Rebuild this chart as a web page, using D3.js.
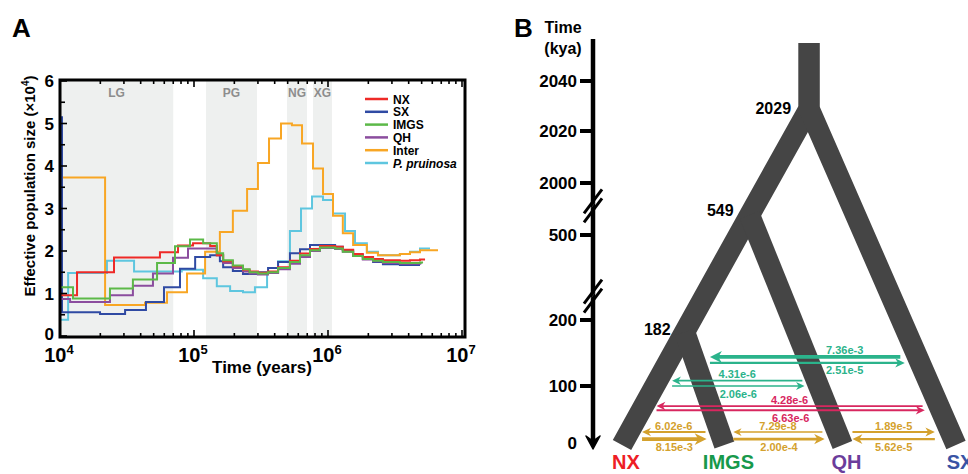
<!DOCTYPE html>
<html>
<head>
<meta charset="utf-8">
<script src="https://cdn.jsdelivr.net/npm/d3@7"></script>
<style>
  body { margin: 0; background: #fff; }
  svg { display: block; }
  text { font-family: "Liberation Sans", Arial, sans-serif; font-weight: bold; }
</style>
</head>
<body>
<div id="chart"></div>
<script>
// ---------- Panel A data: PSMC step curves, [years, Ne x 10^4] ----------
const nx = [[1e4,0.96],[1.34e4,1.5],[2.53e4,1.85],[5.57e4,1.97],[7.6e4,2.13],[9.84e4,2.18],[1.32e5,2.12],[1.48e5,1.9],[1.65e5,1.76],[1.95e5,1.64],[2.32e5,1.56],[2.6e5,1.52],[3.0e5,1.49],[3.57e5,1.52],[4.24e5,1.62],[5.2e5,1.77],[6.18e5,1.94],[7.34e5,2.05],[8.71e5,2.12],[1.13e6,2.1],[1.29e6,2.03],[1.54e6,1.93],[1.82e6,1.86],[2.17e6,1.81],[2.57e6,1.78],[3.44e6,1.77],[4.09e6,1.78],[4.86e6,1.8],[5.3e6,1.8]];
const sx = [[1e4,5.15],[1.035e4,0.56],[1.99e4,0.52],[3.06e4,0.61],[4.38e4,0.8],[5.97e4,1.15],[7.86e4,1.58],[1.02e5,1.86],[1.32e5,1.9],[1.56e5,1.76],[1.65e5,1.62],[1.95e5,1.53],[2.32e5,1.46],[3.0e5,1.5],[3.57e5,1.6],[4.24e5,1.74],[5.2e5,1.95],[6.18e5,2.04],[7.34e5,2.14],[1.13e6,2.1],[1.29e6,2.02],[1.54e6,1.9],[1.82e6,1.82],[2.17e6,1.74],[2.57e6,1.69],[3.44e6,1.67],[4.09e6,1.67],[4.86e6,1.67]];
const imgs = [[1e4,1.15],[1.25e4,0.88],[2.36e4,1.12],[3.5e4,1.33],[5.3e4,1.72],[7.21e4,2.11],[9.34e4,2.27],[1.17e5,2.18],[1.48e5,1.95],[1.65e5,1.78],[1.95e5,1.66],[2.32e5,1.57],[2.6e5,1.5],[3.0e5,1.47],[3.57e5,1.5],[4.24e5,1.6],[5.2e5,1.74],[6.18e5,1.9],[7.34e5,2.02],[8.71e5,2.08],[1.13e6,2.06],[1.29e6,1.98],[1.54e6,1.88],[1.82e6,1.81],[2.17e6,1.77],[2.57e6,1.74],[3.44e6,1.72],[4.09e6,1.72],[4.86e6,1.73],[5.12e6,1.73]];
const qh = [[1e4,0.87],[1.19e4,0.8],[2.36e4,0.96],[3.5e4,1.18],[4.94e4,1.47],[6.97e4,1.84],[9.02e4,2.06],[1.48e5,1.9],[1.65e5,1.72],[1.95e5,1.6],[2.32e5,1.52],[2.6e5,1.47],[3.0e5,1.45],[3.57e5,1.48],[4.24e5,1.57],[5.2e5,1.7],[6.18e5,1.86],[7.34e5,2.0],[8.71e5,2.07],[1.13e6,2.05],[1.29e6,1.98],[1.54e6,1.88],[1.82e6,1.8],[2.17e6,1.76],[2.57e6,1.72],[3.44e6,1.7],[4.09e6,1.7],[4.86e6,1.71],[5.0e6,1.71]];
const inter = [[1e4,3.73],[2.17e4,0.73],[4.31e4,0.78],[6.29e4,1.03],[8.87e4,1.47],[1.21e5,1.98],[1.56e5,2.45],[1.95e5,2.95],[2.49e5,3.46],[3.0e5,4.07],[3.63e5,4.65],[4.46e5,5.0],[5.38e5,4.96],[6.4e5,4.53],[7.73e5,3.94],[9.18e5,3.34],[1.09e6,2.83],[1.29e6,2.42],[1.54e6,2.14],[1.95e6,1.96],[2.36e6,1.9],[3.44e6,1.93],[4.09e6,1.97],[4.86e6,2.02],[6.62e6,2.02]];
const pruinosa = [[1e4,0.38],[1.15e4,1.48],[2.24e4,1.77],[3.57e4,1.52],[8.1e4,1.56],[1.17e5,1.36],[1.48e5,1.17],[1.86e5,1.06],[2.32e5,1.03],[2.85e5,1.15],[3.51e5,1.48],[4.24e5,1.76],[5.2e5,2.47],[6.29e5,3.0],[7.6e5,3.28],[9.18e5,3.2],[1.09e6,2.88],[1.34e6,2.47],[1.59e6,2.18],[1.95e6,1.98],[2.36e6,1.9],[3.44e6,1.93],[4.09e6,1.98],[4.86e6,2.06],[5.77e6,2.06]];

const seriesNames = ['NX', 'SX', 'IMGS', 'QH', 'Inter', 'P. pruinosa'];
const seriesData = [nx, sx, imgs, qh, inter, pruinosa];
const seriesColors = ['#ee2a27', '#2f4aa3', '#5cb948', '#8b4d9e', '#f8a624', '#5ec6df'];
const drawOrder = [5, 4, 1, 3, 0, 2];

// glacial periods (years)
const glacials = [
  { name: 'LG', from: 1e4, to: 7.0e4 },
  { name: 'PG', from: 1.23e5, to: 2.95e5 },
  { name: 'NG', from: 4.94e5, to: 6.97e5 },
  { name: 'XG', from: 7.73e5, to: 1.07e6 }
];

// ---------- Panel B data ----------
const timeTicks = [0, 100, 200, 500, 2000, 2020, 2040];
const treeNodes = {
  top: { t: 2055, u: 1.68 },
  A: { t: 2029, u: 1.68, label: '2029' },
  B: { t: 549, u: 1.146, label: '549' },
  C: { t: 182, u: 0.563, label: '182' },
  NX: { t: 0, u: 0 },
  IMGS: { t: 0, u: 0.92 },
  QH: { t: 0, u: 1.98 },
  SX: { t: 0, u: 3 }
};
const branches = [
  ['top', 'A', 'B', 'C', 'NX'],
  ['top', 'A', 'SX'],
  ['B', 'QH'],
  ['C', 'IMGS']
];
const leaves = ['NX', 'IMGS', 'QH', 'SX'];
const leafColors = { NX: '#ee1d25', IMGS: '#17994b', QH: '#6b3d9b', SX: '#3953a4' };

// migration rates: time (kya), from/to positions (tree units)
const migrations = [
  { rate: 7.36e-3, t: 144, from: 2.5, to: 0.79, group: 'teal', side: 'above', lu: 2.0 },
  { rate: 2.51e-5, t: 135, from: 0.79, to: 2.54, group: 'teal', side: 'below', lu: 2.0 },
  { rate: 4.31e-6, t: 108, from: 1.62, to: 0.45, group: 'teal', side: 'above' },
  { rate: 2.06e-6, t: 100, from: 0.45, to: 1.64, group: 'teal', side: 'below' },
  { rate: 4.28e-6, t: 66, from: 2.70, to: 0.31, group: 'crimson', side: 'above' },
  { rate: 6.63e-6, t: 59, from: 0.31, to: 2.72, group: 'crimson', side: 'below' },
  { rate: 6.02e-6, t: 22, from: 0.75, to: 0.18, group: 'gold', side: 'above' },
  { rate: 8.15e-3, t: 10, from: 0.18, to: 0.76, group: 'gold', side: 'below' },
  { rate: 7.29e-8, t: 22, from: 1.80, to: 1.0, group: 'gold', side: 'above' },
  { rate: 2.00e-4, t: 10, from: 1.0, to: 1.82, group: 'gold', side: 'below' },
  { rate: 1.89e-5, t: 22, from: 2.07, to: 2.81, group: 'gold', side: 'above' },
  { rate: 5.62e-5, t: 10, from: 2.81, to: 2.07, group: 'gold', side: 'below' }
];
const migColors = { teal: '#2bb38b', crimson: '#d8275f', gold: '#d4a12d' };

// ======================================================================
const svg = d3.select('#chart').append('svg').attr('width', 968).attr('height', 474);

// ---------------- Panel A ----------------
const x = d3.scaleLog().domain([1e4, 1e7]).range([60, 462]);
const y = d3.scaleLinear().domain([0, 6]).range([336, 81]);
const fr = { l: 60, r: 465, t: 80, b: 337 };

const gA = svg.append('g');

gA.append('text').attr('x', 12).attr('y', 37).attr('font-size', 26).text('A');

// glacial shading
gA.selectAll('.shade').data(glacials).join('rect')
  .attr('x', d => x(d.from)).attr('width', d => x(d.to) - x(d.from))
  .attr('y', fr.t).attr('height', fr.b - fr.t)
  .attr('fill', '#eef0ef');

gA.selectAll('.shade-label').data(glacials).join('text')
  .attr('x', d => (x(d.from) + x(d.to)) / 2)
  .attr('y', 97)
  .attr('text-anchor', 'middle')
  .attr('font-size', 12)
  .attr('fill', '#8d8d8d')
  .text(d => d.name);

// step lines
const stepLine = d3.line().curve(d3.curveStepAfter).x(d => x(d[0])).y(d => y(d[1]));
drawOrder.forEach(i => {
  gA.append('path')
    .attr('d', stepLine(seriesData[i]))
    .attr('fill', 'none')
    .attr('stroke', seriesColors[i])
    .attr('stroke-width', 2);
});

// frame
gA.append('rect')
  .attr('x', fr.l).attr('y', fr.t).attr('width', fr.r - fr.l).attr('height', fr.b - fr.t)
  .attr('fill', 'none').attr('stroke', '#000').attr('stroke-width', 3);

// x ticks (inward, bottom and top)
x.ticks().forEach(t => {
  const major = Math.abs(Math.log10(t) - Math.round(Math.log10(t))) < 1e-9;
  const len = major ? 7 : 4;
  gA.append('line').attr('x1', x(t)).attr('x2', x(t)).attr('y1', fr.b).attr('y2', fr.b - len)
    .attr('stroke', '#000').attr('stroke-width', 1.6);
  gA.append('line').attr('x1', x(t)).attr('x2', x(t)).attr('y1', fr.t).attr('y2', fr.t + len)
    .attr('stroke', '#000').attr('stroke-width', 1.6);
});
[1e4, 1e5, 1e6, 1e7].forEach(t => {
  const tx = gA.append('text').attr('x', x(t) - 1).attr('y', 362)
    .attr('text-anchor', 'middle').attr('font-size', 20);
  tx.append('tspan').text('10');
  tx.append('tspan').attr('dy', -8).attr('font-size', 13).text(Math.round(Math.log10(t)));
});

// y ticks
y.ticks(12).forEach(v => {
  const major = Number.isInteger(v);
  gA.append('line').attr('x1', fr.l).attr('x2', fr.l + (major ? 7 : 5))
    .attr('y1', y(v)).attr('y2', y(v)).attr('stroke', '#000').attr('stroke-width', 1.6);
  if (major) {
    gA.append('text').attr('x', 54).attr('y', y(v) + (v === 0 ? 4 : 6)).attr('text-anchor', 'end')
      .attr('font-size', 17).text(v);
  }
});

// axis titles
const yt = gA.append('text').attr('transform', 'translate(35,186) rotate(-90)')
  .attr('text-anchor', 'middle').attr('font-size', 15);
yt.append('tspan').text('Effective population size (×10');
yt.append('tspan').attr('dy', -6).attr('font-size', 10).text('4');
yt.append('tspan').attr('dy', 6).text(')');

gA.append('text').attr('x', 262).attr('y', 373).attr('text-anchor', 'middle')
  .attr('font-size', 17).text('Time (years)');

// legend
const legend = gA.append('g');
seriesNames.forEach((name, i) => {
  const ly = 99 + i * 12.8;
  legend.append('line').attr('x1', 365).attr('x2', 388).attr('y1', ly).attr('y2', ly)
    .attr('stroke', seriesColors[i]).attr('stroke-width', 2.5);
  legend.append('text').attr('x', 393).attr('y', ly + 4.5).attr('font-size', 12)
    .attr('font-style', name.startsWith('P.') ? 'italic' : 'normal').text(name);
});

// ---------------- Panel B ----------------
const yT = d3.scaleLinear()
  .domain([0, 100, 200, 500, 549, 2000, 2020, 2040, 2055])
  .range([445, 386, 320, 235, 215, 183, 131, 81, 43]);
const xT = d3.scaleLinear().domain([0, 3]).range([622, 956]);
const axX = 593;

const gB = svg.append('g');
gB.append('text').attr('x', 514).attr('y', 37).attr('font-size', 26).text('B');
gB.append('text').attr('x', 563).attr('y', 33).attr('text-anchor', 'middle').attr('font-size', 16).text('Time');
gB.append('text').attr('x', 563).attr('y', 54).attr('text-anchor', 'middle').attr('font-size', 16).text('(kya)');

// axis line with arrow
const tip = yT(0) + 4;
gB.append('line').attr('x1', axX).attr('x2', axX).attr('y1', 39).attr('y2', tip - 6)
  .attr('stroke', '#000').attr('stroke-width', 4.5);
gB.append('path')
  .attr('d', `M${axX - 7},${tip - 13} L${axX},${tip} L${axX + 7},${tip - 13} L${axX},${tip - 8} Z`)
  .attr('fill', '#000').attr('stroke', '#000').attr('stroke-width', 1.5).attr('stroke-linejoin', 'round');

timeTicks.forEach(t => {
  if (t > 0) {
    gB.append('line').attr('x1', axX - 13).attr('x2', axX).attr('y1', yT(t)).attr('y2', yT(t))
      .attr('stroke', '#000').attr('stroke-width', 4);
  }
  gB.append('text').attr('x', 577).attr('y', (t > 0 ? yT(t) : yT(t) - 2) + 6)
    .attr('text-anchor', 'end').attr('font-size', 17).text(t);
});

// axis breaks
const breakYs = [
  d3.interpolateNumber(yT(2000), yT(500))(0.46),
  d3.interpolateNumber(yT(500), yT(200))(0.73)
];
breakYs.forEach(by => {
  gB.append('path')
    .attr('d', `M${axX - 9},${by + 11} L${axX + 1},${by - 3} L${axX + 9},${by - 14} L${axX - 1},${by} Z`)
    .attr('fill', '#fff');
  [4.5, -4.5].forEach(o => {
    gB.append('line')
      .attr('x1', axX - 9).attr('y1', by + 11 + o).attr('x2', axX + 9).attr('y2', by - 13 + o)
      .attr('stroke', '#000').attr('stroke-width', 3);
  });
});

// tree
const treeLine = d3.line().x(k => xT(treeNodes[k].u)).y(k => yT(treeNodes[k].t));
gB.selectAll('.branch').data(branches).join('path')
  .attr('d', treeLine)
  .attr('fill', 'none')
  .attr('stroke', '#454545')
  .attr('stroke-width', 21)
  .attr('stroke-linejoin', 'miter')
  .attr('stroke-linecap', 'butt');

// node ages
const nodeLabelOffset = { A: [-18, 5], B: [-16, 1], C: [-14, 3] };
Object.keys(nodeLabelOffset).forEach(k => {
  const n = treeNodes[k];
  gB.append('text')
    .attr('x', xT(n.u) + nodeLabelOffset[k][0])
    .attr('y', yT(n.t) + nodeLabelOffset[k][1])
    .attr('text-anchor', 'end').attr('font-size', 16).text(n.label);
});

// migration arrows
const widthScale = d3.scaleLog().domain([1e-6, 1e-2]).range([1.4, 3.8]).clamp(true);
const fmt = d3.format('.2e');
migrations.forEach(m => {
  const yy = yT(m.t);
  const x1 = xT(m.from), x2 = xT(m.to);
  const dir = x2 > x1 ? 1 : -1;
  const w = widthScale(m.rate);
  const L = 6 + w * 1.6, hw = 2.6 + w * 0.9;
  const col = migColors[m.group];
  gB.append('line').attr('x1', x1).attr('x2', x2 - dir * L * 0.6)
    .attr('y1', yy).attr('y2', yy).attr('stroke', col).attr('stroke-width', w);
  gB.append('path')
    .attr('d', `M${x2},${yy} L${x2 - dir * L},${yy - hw} L${x2 - dir * L * 0.7},${yy} L${x2 - dir * L},${yy + hw} Z`)
    .attr('fill', col);
  const lx = m.lu !== undefined ? xT(m.lu) : (x1 + x2) / 2;
  gB.append('text').attr('x', lx).attr('y', m.side === 'above' ? yy - 2.5 : yy + 11.5)
    .attr('text-anchor', 'middle').attr('font-size', 11).attr('fill', col)
    .text(fmt(m.rate));
});

// leaf labels
leaves.forEach(k => {
  gB.append('text').attr('x', xT(treeNodes[k].u) + 4).attr('y', 469)
    .attr('text-anchor', 'middle').attr('font-size', 20)
    .attr('fill', leafColors[k]).text(k);
});
</script>
</body>
</html>
